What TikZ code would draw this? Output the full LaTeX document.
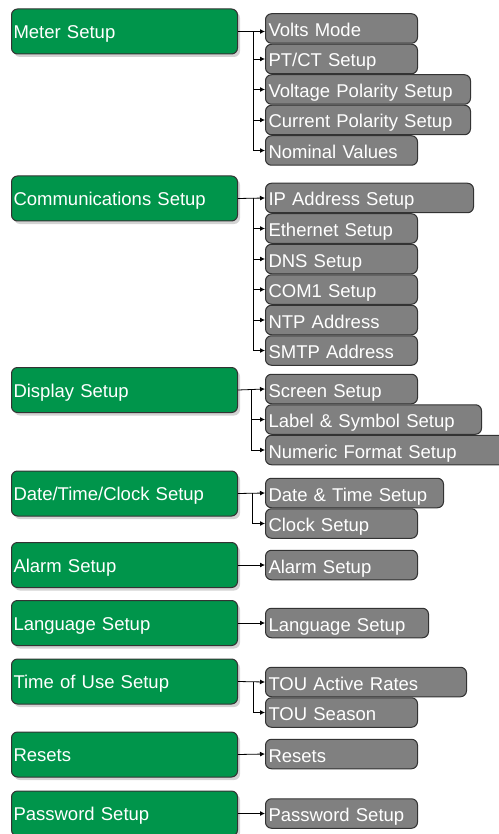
\documentclass[tikz,border=0pt]{standalone}
\usepackage{fontspec}
\setmainfont{Liberation Sans}
\usetikzlibrary{arrows.meta,positioning,shadows}
\definecolor{MenuGreen}{HTML}{00954B}
\definecolor{ItemGray}{HTML}{808080}
\definecolor{Edge}{HTML}{333333}

\begin{document}
\begin{tikzpicture}[x=1pt,y=1pt,
  every node/.style={font=\fontsize{18.5}{20}\selectfont,text=white,anchor=west,align=left},
  menu/.style={draw=Edge,line width=1pt,fill=MenuGreen,rounded corners=6pt,minimum height=45pt,text width=222pt,inner xsep=2pt,
    text height=14pt,text depth=0pt,drop shadow={opacity=0.35,shadow xshift=2.5pt,shadow yshift=-3pt}},
  item/.style={draw=Edge,line width=1pt,fill=ItemGray,rounded corners=6pt,minimum height=29.5pt,inner xsep=3pt,text width=#1,
    text height=16pt,text depth=0pt},
  item/.default=146pt,
  link/.style={-{Latex[length=5pt,width=5pt]},line width=0.8pt}]
\useasboundingbox (0,0) rectangle (498,-834);

% left column
\node[menu] (ms) at (11,-31.5) {Meter Setup};
\node[menu] (cs) at (11,-198.5) {Communications Setup};
\node[menu] (ds) at (11,-390) {Display Setup};
\node[menu] (dt) at (11,-493.5) {Date/Time/Clock Setup};
\node[menu] (as) at (11,-565) {Alarm Setup};
\node[menu] (ls) at (11,-623) {Language Setup};
\node[menu] (tu) at (11,-681.5) {Time of Use Setup};
\node[menu] (rs) at (11,-754.5) {Resets};
\node[menu] (ps) at (11,-813.5) {Password Setup};

% meter setup
\node[item] (vm) at (265,-28.5) {Volts Mode};
\node[item,below=0pt of vm.south west,anchor=north west] (pc) {PT/CT Setup};
\node[item=199pt,below=0pt of pc.south west,anchor=north west] (vp) {Voltage Polarity Setup};
\node[item=199pt,below=0pt of vp.south west,anchor=north west] (cp) {Current Polarity Setup};
\node[item,below=0pt of cp.south west,anchor=north west] (nv) {Nominal Values};

% communications
\node[item=202pt] (ip) at (265,-198) {IP Address Setup};
\node[item,below=0pt of ip.south west,anchor=north west] (es) {Ethernet Setup};
\node[item,below=0pt of es.south west,anchor=north west] (dn) {DNS Setup};
\node[item,below=0pt of dn.south west,anchor=north west] (c1) {COM1 Setup};
\node[item,below=0pt of c1.south west,anchor=north west] (na) {NTP Address};
\node[item,below=0pt of na.south west,anchor=north west] (sa) {SMTP Address};

% display
\node[item] (sc) at (265,-389) {Screen Setup};
\node[item=210pt,below=0pt of sc.south west,anchor=north west] (lb) {Label \& Symbol Setup};
\node[item=236pt,below=0pt of lb.south west,anchor=north west] (nf) {Numeric Format Setup};

% date and time
\node[item=172pt] (dts) at (265,-493) {Date \& Time Setup};
\node[item,below=0pt of dts.south west,anchor=north west] (cl) {Clock Setup};

% single items
\node[item] (al) at (265,-565) {Alarm Setup};
\node[item=157pt] (la) at (265,-623) {Language Setup};
\node[item=195pt] (ta) at (265,-682) {TOU Active Rates};
\node[item,below=0pt of ta.south west,anchor=north west] (ts) {TOU Season};
\node[item] (re) at (265,-754) {Resets};
\node[item] (pw) at (265,-813.5) {Password Setup};

% connectors
\coordinate (mj) at ([xshift=-12pt]ms.east -| vm.west);
\coordinate (cj) at ([xshift=-12pt]ip.west);
\coordinate (dj) at ([xshift=-14pt]sc.west);
\coordinate (tj) at ([xshift=-13pt]dts.west);
\coordinate (uj) at ([xshift=-12pt]ta.west);
\draw[link] (ms.east) -- (ms.east -| vm.west);
\foreach \c in {pc,vp,cp,nv} \draw[link] (mj) |- (\c.west);
\draw[link] (cs.east) -- (ip.west);
\foreach \c in {es,dn,c1,na,sa} \draw[link] (cj) |- (\c.west);
\draw[link] (ds.east) -- (sc.west);
\foreach \c in {lb,nf} \draw[link] (dj) |- (\c.west);
\draw[link] (dt.east) -- (dts.west);
\draw[link] (tj) |- (cl.west);
\draw[link] (as.east) -- (al.west);
\draw[link] (ls.east) -- (la.west);
\draw[link] (tu.east) -- (ta.west);
\draw[link] (uj) |- (ts.west);
\draw[link] (rs.east) -- (re.west);
\draw[link] (ps.east) -- (pw.west);
\end{tikzpicture}
\end{document}
